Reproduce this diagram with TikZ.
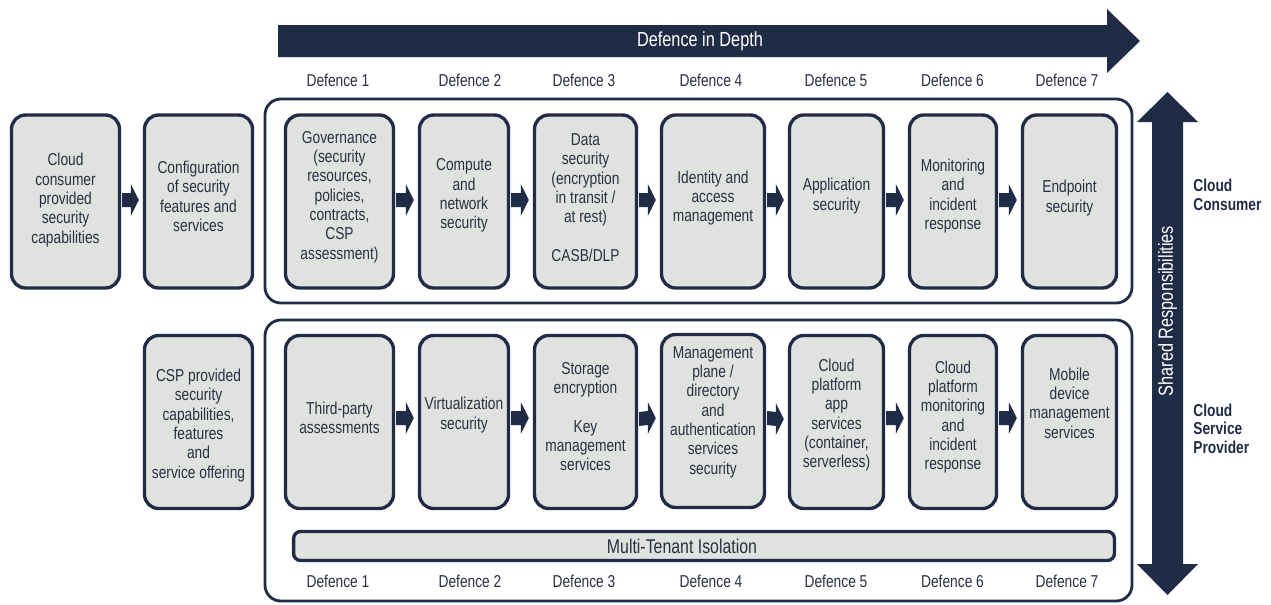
\documentclass[tikz,border=0pt]{standalone}
\usepackage{fontspec}
\setmainfont{Liberation Sans}[FakeStretch=0.8]
\usetikzlibrary{calc}
\definecolor{navy}{RGB}{32,43,69}
\definecolor{boxgrey}{RGB}{224,226,223}
\definecolor{txtc}{RGB}{42,48,64}
\tikzset{
  box/.style={draw=navy, fill=boxgrey, line width=1.9pt, rounded corners=8pt, minimum height=3.46cm, inner sep=0pt},
  txt/.style={text=txtc, align=center, font=\fontsize{9.8}{11}\selectfont, inner sep=0pt},
  lbl/.style={text=txtc, font=\fontsize{9.8}{11}\selectfont, inner sep=0pt},
  frame/.style={draw=navy, line width=1.6pt, rounded corners=9pt},
  side/.style={text=navy, font=\bfseries\fontsize{9.8}{10.5}\selectfont, align=left, anchor=west, inner sep=0pt},
  big/.style={text=white, font=\fontsize{11.6}{13}\selectfont, inner sep=0pt},
}
\newcommand{\blk}[3]{%
  \coordinate (s) at ($(#1.east)+(1,#3)$);
  \coordinate (t) at ($(#2.west)+(-4,#3)$);
  \fill[navy] ($(s)+(0,-7)$) -- ($(t)+(-8,-7)$) -- ($(t)+(-8,-16)$) -- (t)
    -- ($(t)+(-8,16)$) -- ($(t)+(-8,7)$) -- ($(s)+(0,7)$) -- cycle;}
\begin{document}
\begin{tikzpicture}[x=0.02cm,y=-0.02cm]
\useasboundingbox (0,0) rectangle (1271,605);
% top arrow
\fill[navy] (278,25) -- (1107,25) -- (1107,9) -- (1140,41) -- (1107,73) -- (1107,57) -- (278,57) -- cycle;
\node[big] (title) at (700,41) {Defence in Depth};
% vertical double arrow
\fill[navy] (1167.5,92) -- (1198,122) -- (1183,122) -- (1183,564) -- (1198,564) -- (1167.5,595)
  -- (1137,564) -- (1152,564) -- (1152,122) -- (1137,122) -- cycle;
\node[big, rotate=90] (shared) at (1167.5,311) {Shared Responsibilities};
\node[side] (cc) at (1193,195) {Cloud\\Consumer};
\node[side] (csp) at (1193,428.5) {Cloud\\Service\\Provider};
% defence labels
\foreach \i/\x in {1/338,2/470,3/584,4/711,5/836,6/952.5,7/1067}{
  \node[lbl] (dt\i) at (\x,80) {Defence \i};
  \node[lbl] (db\i) at (\x,581) {Defence \i};
}
% frames
\draw[frame] (265,99) rectangle (1132,303);
\draw[frame] (265,320) rectangle (1132,601);
% upper boxes
\node[box, minimum width=2.16cm] (a) at (65.5,201.5) {};
\node[box, minimum width=2.16cm] (b) at (198.5,201.5) {};
\node[box, minimum width=2.16cm] (u1) at (339.5,201.5) {};
\node[box, minimum width=1.78cm] (u2) at (464,201.5) {};
\node[box, minimum width=2.04cm] (u3) at (585.5,201.5) {};
\node[box, minimum width=2.06cm] (u4) at (713,201.5) {};
\node[box, minimum width=1.88cm] (u5) at (836.5,201.5) {};
\node[box, minimum width=1.74cm] (u6) at (953,201.5) {};
\node[box, minimum width=1.88cm] (u7) at (1069.5,201.5) {};
\node[txt] (a-t) at (65.5,200) {Cloud\\consumer\\provided\\security\\capabilities};
\node[txt] (b-t) at (198.5,196.5) {Configuration\\of security\\features and\\services};
\node[txt] (u1-t) at (339.5,197) {Governance\\(security\\resources,\\policies,\\contracts,\\CSP\\assessment)};
\node[txt] (u2-t) at (464,195.5) {Compute\\and\\network\\security};
\node[txt] (u3-t) at (585.5,197.5) {Data\\security\\(encryption\\in transit /\\at rest)\\[11pt]CASB/DLP};
\node[txt] (u4-t) at (713,198) {Identity and\\access\\management};
\node[txt] (u5-t) at (836.5,196) {Application\\security};
\node[txt] (u6-t) at (953,196) {Monitoring\\and\\incident\\response};
\node[txt] (u7-t) at (1069.5,198) {Endpoint\\security};
% lower boxes
\node[box, minimum width=2.16cm] (c) at (198.5,422) {};
\node[box, minimum width=2.16cm] (l1) at (339.5,422) {};
\node[box, minimum width=1.78cm] (l2) at (464,422) {};
\node[box, minimum width=2.04cm] (l3) at (585.5,422) {};
\node[box, minimum width=2.06cm] (l4) at (713,421) {};
\node[box, minimum width=1.88cm] (l5) at (836.5,422) {};
\node[box, minimum width=1.74cm] (l6) at (953,422) {};
\node[box, minimum width=1.88cm] (l7) at (1069.5,422) {};
\node[txt] (c-t) at (198.5,425.5) {CSP provided\\security\\capabilities,\\features\\and\\service offering};
\node[txt] (l1-t) at (339.5,418) {Third-party\\assessments};
\node[txt] (l2-t) at (464,415) {Virtualization\\security};
\node[txt] (l3-t) at (585.5,416.5) {Storage\\encryption\\[11pt]Key\\management\\services};
\node[txt] (l4-t) at (713,412) {Management\\plane /\\directory\\and\\authentication\\services\\security};
\node[txt] (l5-t) at (836.5,415) {Cloud\\platform\\app\\services\\(container,\\serverless)};
\node[txt] (l6-t) at (953,417) {Cloud\\platform\\monitoring\\and\\incident\\response};
\node[txt] (l7-t) at (1069.5,403) {Mobile\\device\\management\\services};
% multi-tenant bar
\node[draw=navy, fill=boxgrey, line width=1.9pt, rounded corners=4pt, minimum width=16.42cm, minimum height=0.58cm, inner sep=0pt] (mt) at (704,546) {};
\node[txt, font=\fontsize{11.3}{13}\selectfont] (mt-t) at (682,546) {Multi-Tenant Isolation};
% block arrows
\blk{a}{b}{-1.5}
\blk{u1}{u2}{-1.5}
\blk{u2}{u3}{-1.5}
\blk{u3}{u4}{-1.5}
\blk{u4}{u5}{-1.5}
\blk{u5}{u6}{-1.5}
\blk{u6}{u7}{-1.5}
\blk{l1}{l2}{-4}
\blk{l2}{l3}{-4}
\blk{l3}{l4}{-3}
\blk{l4}{l5}{-3}
\blk{l5}{l6}{-4}
\blk{l6}{l7}{-4}
\end{tikzpicture}
\end{document}
